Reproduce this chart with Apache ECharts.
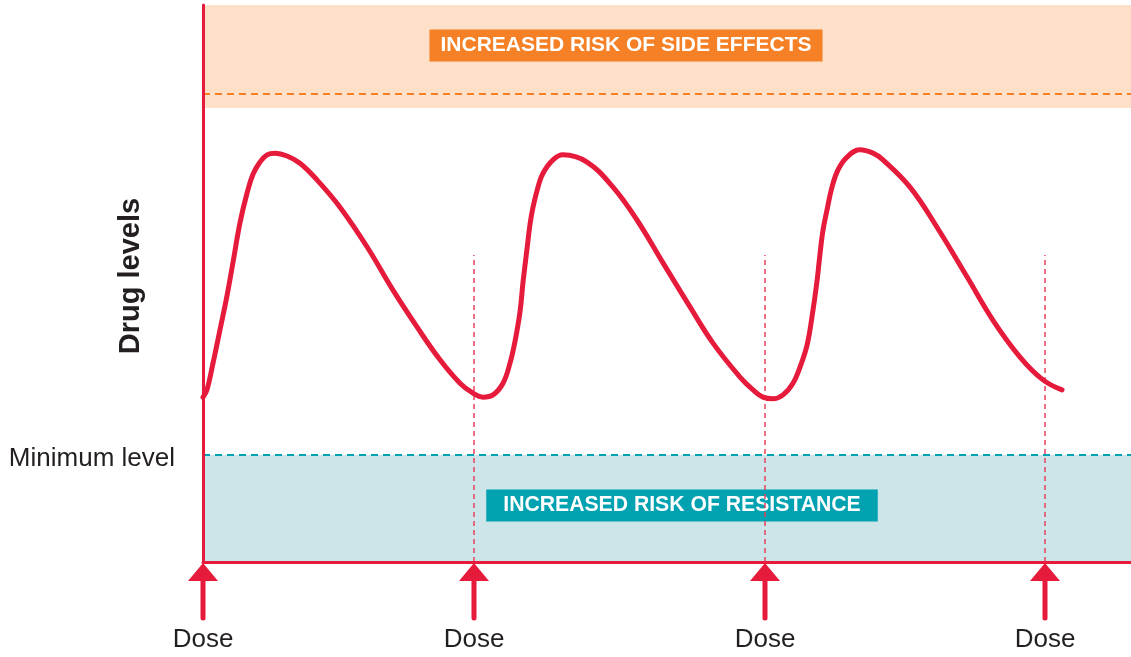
<!DOCTYPE html>
<html>
<head>
<meta charset="utf-8">
<title>Drug levels</title>
<script src="https://cdn.jsdelivr.net/npm/echarts@6/dist/echarts.min.js"></script>
<style>
  html, body { margin: 0; padding: 0; background: #fff; }
  #chart { width: 1131px; height: 657px; }
</style>
</head>
<body>
<div id="chart"></div>
<script>
// time (arbitrary units) and drug level (0-100)
const timeVals = [0, 0.04, 0.10, 0.17, 0.24, 0.30, 0.37, 0.44, 0.50, 0.57,
  0.64, 0.72, 0.84, 0.97, 1.14, 1.37, 1.64, 1.90, 2.14, 2.37,
  2.57, 2.70, 2.80, 2.90, 3.00, 3.07, 3.12, 3.17, 3.20, 3.24,
  3.27, 3.30, 3.35, 3.40, 3.50, 3.60, 3.84, 4.10, 4.34, 4.60,
  4.87, 5.10, 5.37, 5.50, 5.60, 5.70, 5.80, 5.90, 5.97, 6.04,
  6.09, 6.14, 6.17, 6.20, 6.24, 6.29, 6.35, 6.44, 6.57, 6.70,
  6.80, 7.07, 7.34, 7.64, 7.90, 8.17, 8.40, 8.59];
const levelVals = [29.6, 30.9, 35.7, 41.7, 47.8, 53.8, 60.9, 66.2, 69.6, 71.8,
  73.1, 73.4, 72.9, 71.6, 68.6, 63.7, 56.6, 48.8, 42.2, 36.3,
  32.1, 30.3, 29.6, 30.0, 32.1, 35.7, 39.6, 44.9, 50.2, 56.2,
  60.6, 63.7, 67.3, 69.8, 72.2, 73.1, 71.8, 67.3, 61.4, 53.7,
  45.8, 39.3, 33.2, 30.9, 29.6, 29.3, 30.0, 32.1, 35.0, 38.9,
  44.0, 50.4, 55.3, 59.6, 63.2, 67.3, 70.4, 72.7, 74.0, 73.4,
  72.2, 67.3, 60.1, 51.2, 43.4, 36.8, 32.7, 30.9];

const doseTimes = [0, 2.71, 5.62, 8.42];
const doseLabel = 'Dose';
const doseGuideTop = 55.1;

const minLevel = 19.2;
const sideEffectLine = 84.0;
const sideEffectBand = [81.5, 100];
const resistanceBand = [0, minLevel];

const RED = '#e61b3c';
const ORANGE = '#f58025';
const TEAL = '#00a1b0';
const FONT = '"Liberation Sans", Arial, Helvetica, sans-serif';

const chart = echarts.init(document.getElementById('chart'));

const curve = timeVals.map((t, i) => [t, levelVals[i]]);

const option = {
  animation: false,
  grid: { left: 203, right: 0, top: 5, bottom: 95, containLabel: false },
  xAxis: {
    type: 'value', min: 0, max: 9.28, z: 10,
    axisLine: { show: true, lineStyle: { color: RED, width: 3 } },
    axisTick: { show: false }, axisLabel: { show: false }, splitLine: { show: false }
  },
  yAxis: {
    type: 'value', min: 0, max: 100, z: 10,
    axisLine: { show: true, lineStyle: { color: RED, width: 3 } },
    axisTick: { show: false }, axisLabel: { show: false }, splitLine: { show: false }
  },
  graphic: [{
    type: 'text', x: 131, y: 276, rotation: Math.PI / 2,
    style: {
      text: 'Drug levels', align: 'center', verticalAlign: 'middle',
      fontFamily: FONT, fontWeight: 'bold', fontSize: 29, fill: '#231f20'
    }
  }],
  series: [
    {
      type: 'line',
      data: curve,
      smooth: 0.4,
      showSymbol: false,
      z: 5,
      lineStyle: { color: RED, width: 5, cap: 'round' },
      markArea: {
        silent: true,
        data: [
          [{
            yAxis: sideEffectBand[0],
            itemStyle: { color: '#fde0c7' },
            label: {
              show: true, position: 'inside', offset: [-41, -11],
              formatter: 'INCREASED RISK OF SIDE EFFECTS',
              color: '#fff', fontFamily: FONT, fontWeight: 'bold', fontSize: 21,
              backgroundColor: ORANGE, padding: [6, 11, 5, 11]
            }
          }, { yAxis: sideEffectBand[1] }],
          [{
            yAxis: resistanceBand[0],
            itemStyle: { color: '#cce5e9' },
            label: {
              show: true, position: 'inside', offset: [15, -3],
              formatter: 'INCREASED RISK OF RESISTANCE',
              color: '#fff', fontFamily: FONT, fontWeight: 'bold', fontSize: 21.2,
              backgroundColor: TEAL, padding: [6, 17, 5, 17]
            }
          }, { yAxis: resistanceBand[1] }]
        ]
      },
      markLine: {
        silent: true,
        symbol: ['none', 'none'],
        data: [
          {
            yAxis: sideEffectLine,
            lineStyle: { color: ORANGE, width: 2, type: [7, 5] },
            label: { show: false }
          },
          {
            yAxis: minLevel,
            lineStyle: { color: TEAL, width: 2, type: [7, 5] },
            label: {
              show: true, position: 'start', distance: 28, offset: [0, 4],
              formatter: 'Minimum level',
              color: '#231f20', fontFamily: FONT, fontSize: 26
            }
          }
        ].concat(doseTimes.slice(1).map(t => [
          { coord: [t, 0], lineStyle: { color: '#e8415c', width: 1.5, type: [5, 4] }, label: { show: false } },
          { coord: [t, doseGuideTop] }
        ]))
      }
    },
    {
      type: 'custom',
      clip: false,
      silent: true,
      z: 6,
      data: doseTimes.map(t => [t, 0]),
      renderItem: function (params, api) {
        const p = api.coord([api.value(0), 0]);
        return {
          type: 'group',
          children: [
            { type: 'polygon', shape: { points: [[p[0], p[1] + 1], [p[0] - 15, p[1] + 19], [p[0] + 15, p[1] + 19]] },
              style: { fill: RED } },
            { type: 'line', shape: { x1: p[0], y1: p[1] + 15, x2: p[0], y2: p[1] + 56 },
              style: { stroke: RED, lineWidth: 5, lineCap: 'round' } },
            { type: 'text', style: { text: doseLabel, x: p[0], y: p[1] + 78, align: 'center', verticalAlign: 'middle',
              fontFamily: FONT, fontSize: 26, fill: '#231f20' } }
          ]
        };
      }
    }
  ]
};

chart.setOption(option);
</script>
</body>
</html>
